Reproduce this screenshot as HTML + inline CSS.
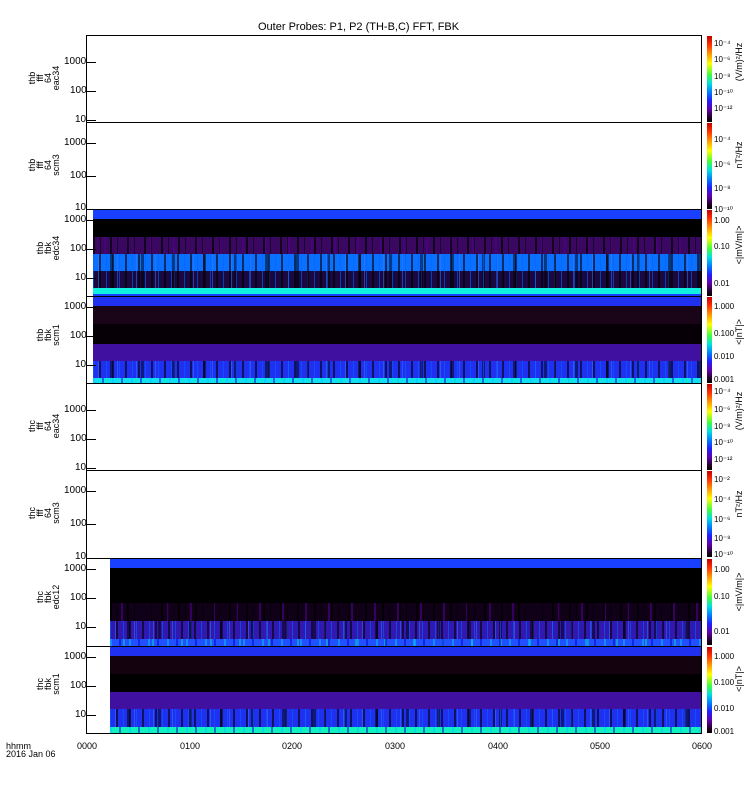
<!DOCTYPE html>
<html><head><meta charset="utf-8"><style>
body{margin:0;background:#fff;font-family:"Liberation Sans",sans-serif;}
#c{position:relative;width:750px;height:800px;overflow:hidden;background:#fff}
.t{position:absolute;font-size:10px;color:#000;white-space:nowrap;line-height:10px}
.p{position:absolute;left:86px;width:616px;border:1px solid #000;box-sizing:border-box}
.b{position:absolute;left:0;right:0}
.cb{position:absolute;left:707px;width:5px;background:linear-gradient(#c00000,#ff3000 10%,#ff9000 20%,#ffff00 32%,#40ff40 45%,#00e0e0 55%,#0080ff 65%,#2020ff 75%,#6000b0 85%,#200020 95%,#000)}
.yl{position:absolute;width:60px;height:32px;font-size:9px;text-align:center;line-height:8px;transform:rotate(-90deg);transform-origin:center}
.st1{background-image:repeating-linear-gradient(90deg,rgba(0,0,0,.7) 0 2px,transparent 2px 7px,rgba(0,0,0,.5) 7px 8px,transparent 8px 17px),repeating-linear-gradient(90deg,transparent 0 11px,rgba(80,0,140,.6) 11px 13px,transparent 13px 23px)}
.st2{background-image:repeating-linear-gradient(90deg,rgba(0,100,255,.6) 0 1px,transparent 1px 6px,rgba(0,0,0,.6) 6px 8px,transparent 8px 13px),repeating-linear-gradient(90deg,transparent 0 17px,rgba(0,0,0,.5) 17px 20px,transparent 20px 31px),repeating-linear-gradient(90deg,transparent 0 5px,rgba(60,120,255,.5) 5px 6px,transparent 6px 19px)}
.st3{background-image:repeating-linear-gradient(90deg,rgba(0,200,255,.5) 0 2px,transparent 2px 9px,rgba(0,0,200,.5) 9px 11px,transparent 11px 19px),repeating-linear-gradient(90deg,transparent 0 13px,rgba(0,255,160,.4) 13px 15px,transparent 15px 29px)}
.tk{position:absolute;left:86px;width:10px;height:1px;background:#000}
</style></head><body><div id="c">
<div class="t" style="left:258px;top:22px;font-size:11px">Outer Probes: P1, P2 (TH-B,C) FFT, FBK</div>

<div class="p" style="top:35px;height:88px"></div>
<div class="p" style="top:122px;height:88px"></div>
<div class="p" style="top:209px;height:88px;overflow:hidden">
 <div class="b" style="left:6px;top:0;height:9px;background:#1a40ff"></div>
 <div class="b" style="left:6px;top:9px;height:18px;background:#000"></div>
 <div class="b st1" style="left:6px;top:27px;height:17px;background-color:#3a0860"></div>
 <div class="b st2" style="left:6px;top:44px;height:17px;background-color:#0a70ff"></div>
 <div class="b st2" style="left:6px;top:61px;height:17px;background-color:#1a0840"></div>
 <div class="b" style="left:6px;top:78px;height:6px;background:#10f0e0"></div>
 <div class="b" style="left:6px;top:84px;height:4px;background:#1a40ff"></div>
</div>
<div class="p" style="top:296px;height:88px;overflow:hidden">
 <div class="b" style="left:6px;top:0;height:9px;background:#2030f0"></div>
 <div class="b" style="left:6px;top:9px;height:18px;background:#1a0418"></div>
 <div class="b" style="left:6px;top:27px;height:20px;background:#060006"></div>
 <div class="b" style="left:6px;top:47px;height:17px;background:#4010a0"></div>
 <div class="b st2" style="left:6px;top:64px;height:17px;background-color:#2030f0"></div>
 <div class="b st3" style="left:6px;top:81px;height:7px;background-color:#10e0f0"></div>
</div>
<div class="p" style="top:383px;height:88px"></div>
<div class="p" style="top:470px;height:89px"></div>
<div class="p" style="top:558px;height:89px;overflow:hidden">
 <div class="b" style="left:23px;top:0;height:9px;background:#1a40ff"></div>
 <div class="b" style="left:23px;top:9px;height:35px;background:#000"></div>
 <div class="b st1" style="left:23px;top:44px;height:18px;background-color:#100018"></div>
 <div class="b st2" style="left:23px;top:62px;height:18px;background-color:#3018b0"></div>
 <div class="b st3" style="left:23px;top:80px;height:9px;background-color:#2050ff"></div>
</div>
<div class="p" style="top:646px;height:88px;overflow:hidden">
 <div class="b" style="left:23px;top:0;height:9px;background:#2030f0"></div>
 <div class="b" style="left:23px;top:9px;height:18px;background:#14020f"></div>
 <div class="b" style="left:23px;top:27px;height:18px;background:#000"></div>
 <div class="b" style="left:23px;top:45px;height:17px;background:#4010a0"></div>
 <div class="b st2" style="left:23px;top:62px;height:18px;background-color:#2030f0"></div>
 <div class="b st3" style="left:23px;top:80px;height:8px;background-color:#10f0c0"></div>
</div>

<!-- major ticks -->
<div class="tk" style="top:62px"></div><div class="tk" style="top:91px"></div><div class="tk" style="top:120px"></div>
<div class="tk" style="top:143px"></div><div class="tk" style="top:176px"></div>
<div class="tk" style="top:220px"></div><div class="tk" style="top:249px"></div><div class="tk" style="top:278px"></div>
<div class="tk" style="top:307px"></div><div class="tk" style="top:336px"></div><div class="tk" style="top:365px"></div>
<div class="tk" style="top:410px"></div><div class="tk" style="top:439px"></div><div class="tk" style="top:468px"></div>
<div class="tk" style="top:491px"></div><div class="tk" style="top:524px"></div>
<div class="tk" style="top:569px"></div><div class="tk" style="top:598px"></div><div class="tk" style="top:627px"></div>
<div class="tk" style="top:657px"></div><div class="tk" style="top:686px"></div><div class="tk" style="top:715px"></div>

<div class="t" style="left:64px;top:57px">1000</div><div class="t" style="left:70px;top:86px">100</div><div class="t" style="left:75px;top:115px">10</div>
<div class="t" style="left:64px;top:138px">1000</div><div class="t" style="left:70px;top:171px">100</div><div class="t" style="left:75px;top:203px">10</div>
<div class="t" style="left:64px;top:215px">1000</div><div class="t" style="left:70px;top:244px">100</div><div class="t" style="left:75px;top:273px">10</div>
<div class="t" style="left:64px;top:302px">1000</div><div class="t" style="left:70px;top:331px">100</div><div class="t" style="left:75px;top:360px">10</div>
<div class="t" style="left:64px;top:405px">1000</div><div class="t" style="left:70px;top:434px">100</div><div class="t" style="left:75px;top:463px">10</div>
<div class="t" style="left:64px;top:486px">1000</div><div class="t" style="left:70px;top:519px">100</div><div class="t" style="left:75px;top:552px">10</div>
<div class="t" style="left:64px;top:564px">1000</div><div class="t" style="left:70px;top:593px">100</div><div class="t" style="left:75px;top:622px">10</div>
<div class="t" style="left:64px;top:652px">1000</div><div class="t" style="left:70px;top:681px">100</div><div class="t" style="left:75px;top:710px">10</div>

<!-- panel labels: centred at x=44 -->
<div class="yl" style="left:14px;top:62px">thb<br>fff<br>64<br>eac34</div>
<div class="yl" style="left:14px;top:149px">thb<br>fff<br>64<br>scm3</div>
<div class="yl" style="left:18px;top:236px;height:24px">thb<br>fbk<br>edc34</div>
<div class="yl" style="left:18px;top:323px;height:24px">thb<br>fbk<br>scm1</div>
<div class="yl" style="left:14px;top:410px">thc<br>fff<br>64<br>eac34</div>
<div class="yl" style="left:14px;top:497px">thc<br>fff<br>64<br>scm3</div>
<div class="yl" style="left:18px;top:585px;height:24px">thc<br>fbk<br>edc12</div>
<div class="yl" style="left:18px;top:672px;height:24px">thc<br>fbk<br>scm1</div>

<div class="cb" style="top:36px;height:86px"></div>
<div class="cb" style="top:123px;height:86px"></div>
<div class="cb" style="top:210px;height:86px"></div>
<div class="cb" style="top:297px;height:86px"></div>
<div class="cb" style="top:384px;height:86px"></div>
<div class="cb" style="top:471px;height:86px"></div>
<div class="cb" style="top:559px;height:86px"></div>
<div class="cb" style="top:647px;height:86px"></div>
<div class="t" style="left:714px;top:39px;font-size:8px">10⁻⁴</div>
<div class="t" style="left:714px;top:55px;font-size:8px">10⁻⁶</div>
<div class="t" style="left:714px;top:72px;font-size:8px">10⁻⁸</div>
<div class="t" style="left:714px;top:88px;font-size:8px">10⁻¹⁰</div>
<div class="t" style="left:714px;top:104px;font-size:8px">10⁻¹²</div>
<div class="t" style="left:714px;top:135px;font-size:8px">10⁻⁴</div>
<div class="t" style="left:714px;top:160px;font-size:8px">10⁻⁶</div>
<div class="t" style="left:714px;top:184px;font-size:8px">10⁻⁸</div>
<div class="t" style="left:714px;top:205px;font-size:8px">10⁻¹⁰</div>
<div class="t" style="left:714px;top:216px;font-size:8px">1.00</div>
<div class="t" style="left:714px;top:242px;font-size:8px">0.10</div>
<div class="t" style="left:714px;top:279px;font-size:8px">0.01</div>
<div class="t" style="left:714px;top:302px;font-size:8px">1.000</div>
<div class="t" style="left:714px;top:329px;font-size:8px">0.100</div>
<div class="t" style="left:714px;top:352px;font-size:8px">0.010</div>
<div class="t" style="left:714px;top:375px;font-size:8px">0.001</div>
<div class="t" style="left:714px;top:387px;font-size:8px">10⁻⁴</div>
<div class="t" style="left:714px;top:405px;font-size:8px">10⁻⁶</div>
<div class="t" style="left:714px;top:422px;font-size:8px">10⁻⁸</div>
<div class="t" style="left:714px;top:438px;font-size:8px">10⁻¹⁰</div>
<div class="t" style="left:714px;top:455px;font-size:8px">10⁻¹²</div>
<div class="t" style="left:714px;top:475px;font-size:8px">10⁻²</div>
<div class="t" style="left:714px;top:495px;font-size:8px">10⁻⁴</div>
<div class="t" style="left:714px;top:515px;font-size:8px">10⁻⁶</div>
<div class="t" style="left:714px;top:534px;font-size:8px">10⁻⁸</div>
<div class="t" style="left:714px;top:550px;font-size:8px">10⁻¹⁰</div>
<div class="t" style="left:714px;top:565px;font-size:8px">1.00</div>
<div class="t" style="left:714px;top:592px;font-size:8px">0.10</div>
<div class="t" style="left:714px;top:627px;font-size:8px">0.01</div>
<div class="t" style="left:714px;top:652px;font-size:8px">1.000</div>
<div class="t" style="left:714px;top:678px;font-size:8px">0.100</div>
<div class="t" style="left:714px;top:704px;font-size:8px">0.010</div>
<div class="t" style="left:714px;top:727px;font-size:8px">0.001</div>
<div class="yl" style="left:705px;top:57px;height:10px;width:70px">(V/m)²/Hz</div>
<div class="yl" style="left:710px;top:150px;height:10px">nT²/Hz</div>
<div class="yl" style="left:710px;top:240px;height:10px">&lt;|mV/m|&gt;</div>
<div class="yl" style="left:710px;top:327px;height:10px">&lt;|nT|&gt;</div>
<div class="yl" style="left:705px;top:406px;height:10px;width:70px">(V/m)²/Hz</div>
<div class="yl" style="left:710px;top:499px;height:10px">nT²/Hz</div>
<div class="yl" style="left:710px;top:587px;height:10px">&lt;|mV/m|&gt;</div>
<div class="yl" style="left:710px;top:674px;height:10px">&lt;|nT|&gt;</div>

<div class="t" style="left:6px;top:741px;font-size:9px">hhmm</div>
<div class="t" style="left:6px;top:749px;font-size:9px">2016 Jan 06</div>
<div class="t" style="left:77px;top:741px;font-size:9px">0000</div>
<div class="t" style="left:180px;top:741px;font-size:9px">0100</div>
<div class="t" style="left:282px;top:741px;font-size:9px">0200</div>
<div class="t" style="left:385px;top:741px;font-size:9px">0300</div>
<div class="t" style="left:488px;top:741px;font-size:9px">0400</div>
<div class="t" style="left:590px;top:741px;font-size:9px">0500</div>
<div class="t" style="left:692px;top:741px;font-size:9px">0600</div>
</div></body></html>
